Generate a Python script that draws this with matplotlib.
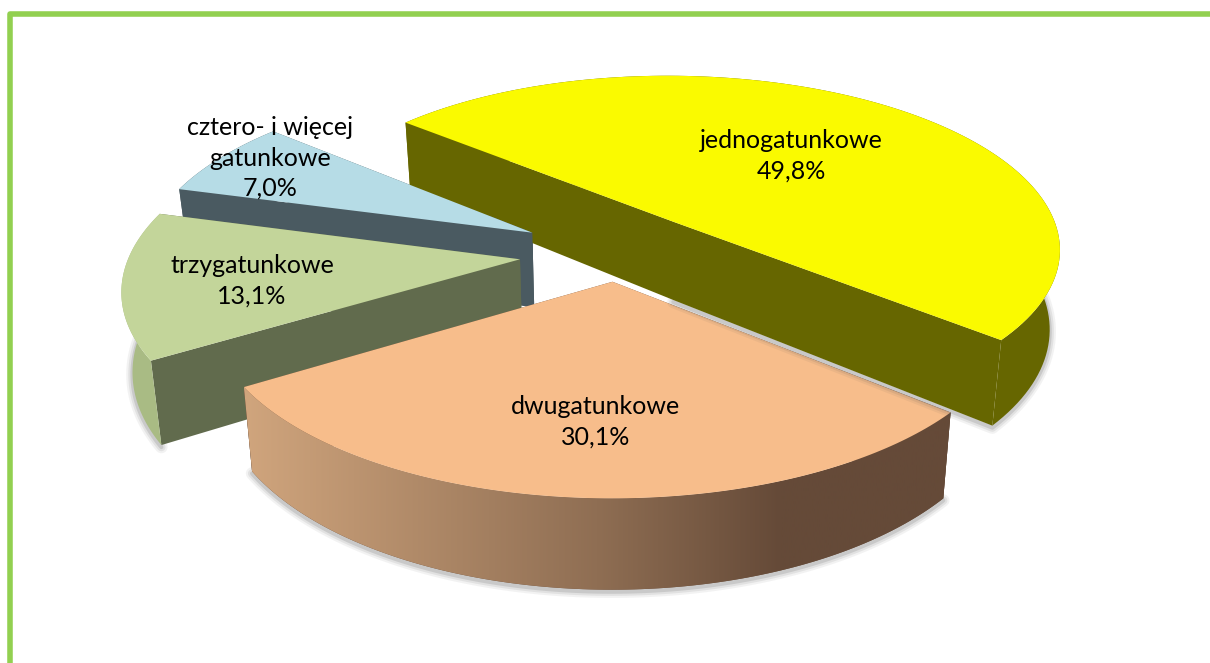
# -*- coding: utf-8 -*-
import numpy as np
import matplotlib
matplotlib.use("Agg")
import matplotlib.pyplot as plt
from matplotlib.colors import LinearSegmentedColormap
from matplotlib.patches import Polygon, Rectangle

# chart data
categories = ["jednogatunkowe", "dwugatunkowe", "trzygatunkowe", "cztero- i więcej\ngatunkowe"]
shares = [49.8, 30.1, 13.1, 7.0]
share_labels = ["49,8%", "30,1%", "13,1%", "7,0%"]
explosion = [0.235, 0.16, 0.25, 0.25]
thickness = [1.05, 1.0, 1.02, 1.0]

# colours per slice
top_colors = ["#FAFA00", "#F7BD8B", "#C3D59A", "#B6DCE6"]
wall_colors = ["#666600", "#654A38", "#616B4D", "#4A5A61"]
rim_colors = ["#666600", "#654A38", "#A9BB84", "#4A5A61"]
label_pos = [(791, 156), (596, 422), (252, 281), (270, 158)]

# fake 3D projection settings
START_ANGLE = 139.4
X0, Y0 = 617, 253
R, RE = 390, 176
PERSP = 0.145
DEPTH = 76
LEAN = 0.022  # bottom edge pulls in towards the middle


def project(gx, gy, down=0.0):
    s = 1.0 / (1.0 + PERSP * gy)
    return X0 + R * gx * s * (1 - LEAN * down), Y0 - RE * gy * s + DEPTH * down * s


def slice_geometry(a0, a1, expl):
    mid = np.radians((a0 + a1) / 2)
    ax, ay = expl * np.cos(mid), expl * np.sin(mid)
    t = np.radians(np.linspace(a0, a1, 120))
    return ax, ay, ax + np.cos(t), ay + np.sin(t)


def pts(gx, gy, down=0.0):
    x, y = project(np.asarray(gx), np.asarray(gy), down)
    return np.column_stack([x, y])


def draw_shadow(ax, ring, z):
    for lw, alpha in [(9, 0.07), (6, 0.10), (3, 0.16)]:
        ax.plot(ring[:, 0], ring[:, 1] + 2, color="#505050", lw=lw, alpha=alpha,
                solid_capstyle="round", zorder=z)


fig = plt.figure(figsize=(12.10, 6.63), dpi=100)
ax = fig.add_axes([0, 0, 1, 1])
ax.set_xlim(0, 1210)
ax.set_ylim(663, 0)
ax.axis("off")

# outer frame
ax.plot([10, 10, 1210], [663, 14, 14], color="#92D050", lw=4.0, solid_joinstyle="round", zorder=1)

# slice angles come from the shares, going clockwise
fracs = np.array(shares) / sum(shares)
ends = START_ANGLE - np.cumsum(fracs) * 360
starts = np.r_[START_ANGLE, ends[:-1]]

# blue wall < green < orange < yellow < blue top
order_z = {3: 2, 2: 4, 1: 6, 0: 8}
gradient = LinearSegmentedColormap.from_list(
    "rim", [(0, "#D0A57D"), (0.5, "#8F6E53"), (0.76, "#654A38"), (1, "#654A38")])

for i in range(4):
    z = order_z[i]
    th = thickness[i]
    cx, cy, rx, ry = slice_geometry(starts[i], ends[i], explosion[i])
    rim_top = pts(rx, ry)
    rim_bot = pts(rx, ry, th)
    apex = ([cx], [cy])
    first = ([rx[0]], [ry[0]])
    last = ([rx[-1]], [ry[-1]])

    # only the front part of the rim casts a visible shadow
    if i == 0:
        draw_shadow(ax, np.vstack([rim_bot[ry < 0.9], pts(*apex, th)]), z - 0.5)
    elif i != 3:
        draw_shadow(ax, rim_bot[ry < cy + 0.25], z - 0.5)

    if fracs[i] > 0.45:
        # nearly straight across, one band so no seam shows at the apex
        band = np.vstack([pts(*first), pts(*apex), pts(*last),
                          pts(*last, th), pts(*apex, th), pts(*first, th)])
        ax.add_patch(Polygon(band, fc=wall_colors[i], lw=0, zorder=z))
    else:
        for g in (first, last):
            quad = np.vstack([pts(*apex), pts(*g), pts(*g, th), pts(*apex, th)])
            ax.add_patch(Polygon(quad, fc=wall_colors[i], lw=0, zorder=z))

    # the tip of the blue wall sits in front of the yellow wall
    if i == 3:
        tip = Polygon(np.vstack([pts(*apex), pts(*last), pts(*last, th), pts(*apex, th)]),
                      fc=wall_colors[i], lw=0, zorder=9)
        ax.add_patch(tip)
        tip.set_clip_path(Rectangle((490, 200), 60, 55, transform=ax.transData))

    rim_poly = Polygon(np.vstack([rim_top, rim_bot[::-1]]), fc=rim_colors[i], lw=0, zorder=z + 0.1)
    ax.add_patch(rim_poly)
    if i == 1:
        im = ax.imshow(np.linspace(0, 1, 256)[None, :], cmap=gradient, aspect="auto",
                       extent=(rim_top[:, 0].min(), rim_top[:, 0].max(), 663, 0), zorder=z + 0.1)
        im.set_clip_path(rim_poly)

    top = Polygon(np.vstack([pts(*apex), rim_top]), fc=top_colors[i], lw=0,
                  zorder=12 if i == 3 else z + 0.2)
    ax.add_patch(top)

ax.set_xlim(0, 1210)
ax.set_ylim(663, 0)

for name, val, (tx, ty) in zip(categories, share_labels, label_pos):
    ax.text(tx, ty, f"{name}\n{val}", ha="center", va="center", fontsize=18,
            family="Lato", color="#000000", linespacing=1.37, zorder=20)

fig.savefig("out.png", dpi=100)
